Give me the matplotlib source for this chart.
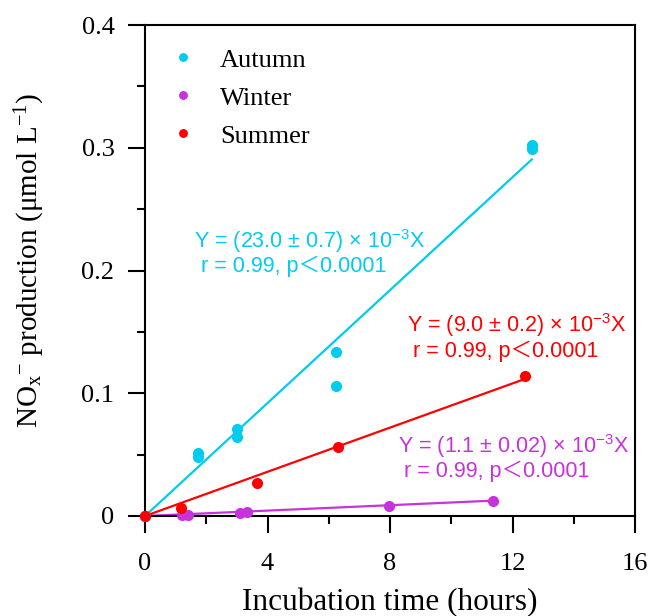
import numpy as np
import matplotlib
matplotlib.use("Agg")
import matplotlib.pyplot as plt
from matplotlib.ticker import MultipleLocator

plt.rcParams['font.family'] = ['Liberation Serif', 'DejaVu Serif']
plt.rcParams['mathtext.fontset'] = 'custom'
plt.rcParams['mathtext.default'] = 'regular'

# data
autumn_x = [0, 1.74, 1.74, 3.01, 3.01, 6.23, 6.23, 12.63, 12.63]
autumn_y = [0, 0.0517, 0.0481, 0.0712, 0.0644, 0.134, 0.1057, 0.302, 0.2986]
winter_x = [0, 1.22, 1.40, 3.10, 3.34, 7.98, 11.35]
winter_y = [0, 0.0006, 0.0011, 0.0027, 0.0033, 0.0082, 0.0125]
summer_x = [0, 1.16, 3.66, 6.29, 12.40]
summer_y = [0, 0.0068, 0.0269, 0.0562, 0.1139]

# fitted slopes (x 10^-3) and their errors as printed on the chart
slopes = {'Autumn': 23.0, 'Winter': 1.1, 'Summer': 9.0}
slope_err = {'Autumn': '0.7', 'Winter': '0.02', 'Summer': '0.2'}

y_ticks = [0, 0.1, 0.2, 0.3, 0.4]
y_tick_labels = ['0', '0.1', '0.2', '0.3', '0.4']
x_ticks = [0, 4, 8, 12, 16]

colors = {'Autumn': '#00CCEE', 'Winter': '#C832DC', 'Summer': '#FF0000'}

fig = plt.figure(figsize=(6.5, 6.16), dpi=100)
ax = fig.add_axes([145 / 650, 1 - 516 / 616, 490 / 650, 491 / 616])

series = [('Autumn', autumn_x, autumn_y),
          ('Winter', winter_x, winter_y),
          ('Summer', summer_x, summer_y)]

for name, xs, ys in series:
    xs = np.array(xs)
    fit_x = np.array([0, xs.max()])
    ax.plot(fit_x, slopes[name] * 1e-3 * fit_x, color=colors[name], lw=1.6, zorder=2)
for name, xs, ys in series:
    ax.plot(xs, ys, 'o', color=colors[name], ms=8, mec='none', label=name,
            zorder=3, clip_on=False)

# equations
eq_pos = {'Autumn': (194, 248, 201, 272),
          'Summer': (407, 332, 413, 357),
          'Winter': (398, 453, 404, 477)}
for name in ['Autumn', 'Summer', 'Winter']:
    x1, y1, x2, y2 = eq_pos[name]
    ax.text(x1 / 650, 1 - y1 / 616, 'Y = (%.1f ± %s) × 10$^{-3}$X' % (slopes[name], slope_err[name]),
            transform=fig.transFigure, color=colors[name], fontsize=15.5,
            family=['Liberation Sans', 'DejaVu Sans'], ha='left', va='baseline')
    ax.text(x2 / 650, 1 - y2 / 616, 'r = 0.99, p\uFF1C0.0001',
            transform=fig.transFigure, color=colors[name], fontsize=15.5,
            family=['Liberation Sans', 'Noto Sans CJK SC'], ha='left', va='baseline')

ax.set_xlim(0, 16)
ax.set_ylim(0, 0.4)
ax.set_xticks(x_ticks)
ax.xaxis.set_minor_locator(MultipleLocator(2))
ax.set_yticks(y_ticks)
ax.set_yticklabels(y_tick_labels)
ax.yaxis.set_minor_locator(MultipleLocator(0.05))
ax.tick_params(which='major', length=12, width=1.5, labelsize=19, pad=10)
ax.tick_params(which='minor', length=6, width=1.5)
ax.tick_params(axis='x', which='major', pad=15)
for sp in ax.spines.values():
    sp.set_linewidth(1.5)

ax.set_xlabel('Incubation time (hours)', fontsize=22.5, labelpad=9)
ax.set_ylabel('NO$_x$$^{-}$ production (μmol L$^{-1}$)', fontsize=21)
ax.yaxis.set_label_coords(-0.2, 0.52)

ax.legend(loc='upper left', bbox_to_anchor=(0.05, 0.953), frameon=False, fontsize=19,
          handlelength=1, handletextpad=0.91, labelspacing=0.55, borderpad=0,
          borderaxespad=0, markerscale=0.8)

fig.savefig('out.png', dpi=100)
